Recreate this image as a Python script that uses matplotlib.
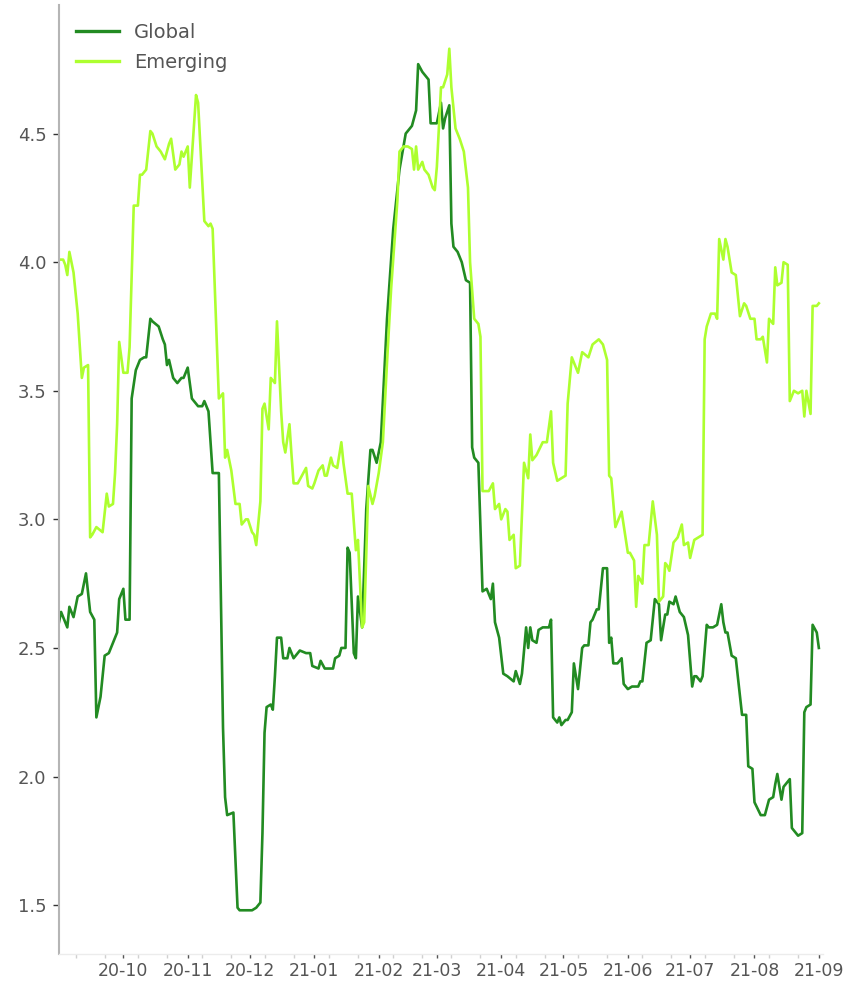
import matplotlib
matplotlib.use("Agg")
import matplotlib.pyplot as plt
import matplotlib.dates as mdates
import numpy as np
import pandas as pd

# values (date, level)
global_pts = [
    ("2020-08-31", 2.60), ("2020-09-01", 2.64), ("2020-09-04", 2.58), ("2020-09-05", 2.66),
    ("2020-09-07", 2.62), ("2020-09-09", 2.70), ("2020-09-11", 2.71), ("2020-09-13", 2.79),
    ("2020-09-15", 2.64), ("2020-09-17", 2.61), ("2020-09-18", 2.23), ("2020-09-20", 2.31),
    ("2020-09-22", 2.47), ("2020-09-24", 2.48), ("2020-09-26", 2.52), ("2020-09-28", 2.56),
    ("2020-09-29", 2.69), ("2020-10-01", 2.73), ("2020-10-02", 2.61), ("2020-10-04", 2.61),
    ("2020-10-05", 3.47), ("2020-10-07", 3.58), ("2020-10-09", 3.62), ("2020-10-11", 3.63),
    ("2020-10-12", 3.63), ("2020-10-14", 3.78), ("2020-10-15", 3.77), ("2020-10-18", 3.75),
    ("2020-10-20", 3.70), ("2020-10-21", 3.68), ("2020-10-22", 3.60), ("2020-10-23", 3.62),
    ("2020-10-25", 3.55), ("2020-10-27", 3.53), ("2020-10-29", 3.55), ("2020-10-30", 3.55),
    ("2020-11-01", 3.59), ("2020-11-03", 3.47), ("2020-11-06", 3.44), ("2020-11-08", 3.44),
    ("2020-11-09", 3.46), ("2020-11-11", 3.42), ("2020-11-13", 3.18), ("2020-11-16", 3.18),
    ("2020-11-18", 2.19), ("2020-11-19", 1.92), ("2020-11-20", 1.85), ("2020-11-23", 1.86),
    ("2020-11-25", 1.49), ("2020-11-26", 1.48), ("2020-12-02", 1.48), ("2020-12-04", 1.49),
    ("2020-12-06", 1.51), ("2020-12-07", 1.78), ("2020-12-08", 2.17), ("2020-12-09", 2.27),
    ("2020-12-11", 2.28), ("2020-12-12", 2.26), ("2020-12-13", 2.39), ("2020-12-14", 2.54),
    ("2020-12-16", 2.54), ("2020-12-17", 2.46), ("2020-12-19", 2.46), ("2020-12-20", 2.50),
    ("2020-12-22", 2.46), ("2020-12-25", 2.49), ("2020-12-28", 2.48), ("2020-12-30", 2.48),
    ("2020-12-31", 2.43), ("2021-01-03", 2.42), ("2021-01-04", 2.45), ("2021-01-06", 2.42),
    ("2021-01-10", 2.42), ("2021-01-11", 2.46), ("2021-01-13", 2.47), ("2021-01-14", 2.50),
    ("2021-01-16", 2.50), ("2021-01-17", 2.89), ("2021-01-18", 2.87), ("2021-01-20", 2.48),
    ("2021-01-21", 2.46), ("2021-01-22", 2.70), ("2021-01-24", 2.58), ("2021-01-26", 3.04),
    ("2021-01-28", 3.27), ("2021-01-29", 3.27), ("2021-01-31", 3.22), ("2021-02-02", 3.30),
    ("2021-02-05", 3.78), ("2021-02-08", 4.13), ("2021-02-11", 4.36), ("2021-02-14", 4.50),
    ("2021-02-15", 4.51), ("2021-02-17", 4.53), ("2021-02-19", 4.59), ("2021-02-20", 4.77),
    ("2021-02-22", 4.74), ("2021-02-25", 4.71), ("2021-02-26", 4.54), ("2021-03-01", 4.54),
    ("2021-03-03", 4.62), ("2021-03-04", 4.52), ("2021-03-05", 4.56), ("2021-03-07", 4.61),
    ("2021-03-08", 4.15), ("2021-03-09", 4.06), ("2021-03-11", 4.04), ("2021-03-13", 4.00),
    ("2021-03-15", 3.93), ("2021-03-17", 3.92), ("2021-03-18", 3.28), ("2021-03-19", 3.24),
    ("2021-03-21", 3.22), ("2021-03-23", 2.72), ("2021-03-25", 2.73), ("2021-03-27", 2.69),
    ("2021-03-28", 2.75), ("2021-03-29", 2.60), ("2021-03-31", 2.54), ("2021-04-02", 2.40),
    ("2021-04-04", 2.39), ("2021-04-07", 2.37), ("2021-04-08", 2.41), ("2021-04-10", 2.36),
    ("2021-04-11", 2.40), ("2021-04-13", 2.58), ("2021-04-14", 2.50), ("2021-04-15", 2.58),
    ("2021-04-16", 2.53), ("2021-04-18", 2.52), ("2021-04-19", 2.57), ("2021-04-21", 2.58),
    ("2021-04-24", 2.58), ("2021-04-25", 2.61), ("2021-04-26", 2.23), ("2021-04-28", 2.21),
    ("2021-04-29", 2.23), ("2021-04-30", 2.20), ("2021-05-02", 2.22), ("2021-05-03", 2.22),
    ("2021-05-05", 2.25), ("2021-05-06", 2.44), ("2021-05-08", 2.34), ("2021-05-09", 2.42),
    ("2021-05-10", 2.50), ("2021-05-11", 2.51), ("2021-05-13", 2.51), ("2021-05-14", 2.60),
    ("2021-05-15", 2.61), ("2021-05-17", 2.65), ("2021-05-18", 2.65), ("2021-05-20", 2.81),
    ("2021-05-22", 2.81), ("2021-05-23", 2.52), ("2021-05-24", 2.54), ("2021-05-25", 2.44),
    ("2021-05-27", 2.44), ("2021-05-29", 2.46), ("2021-05-30", 2.36), ("2021-06-01", 2.34),
    ("2021-06-03", 2.35), ("2021-06-06", 2.35), ("2021-06-07", 2.37), ("2021-06-08", 2.37),
    ("2021-06-10", 2.52), ("2021-06-12", 2.53), ("2021-06-14", 2.69), ("2021-06-16", 2.67),
    ("2021-06-17", 2.53), ("2021-06-19", 2.63), ("2021-06-20", 2.63), ("2021-06-21", 2.68),
    ("2021-06-23", 2.67), ("2021-06-24", 2.70), ("2021-06-26", 2.64), ("2021-06-28", 2.62),
    ("2021-06-30", 2.55), ("2021-07-02", 2.35), ("2021-07-03", 2.39), ("2021-07-04", 2.39),
    ("2021-07-06", 2.37), ("2021-07-07", 2.39), ("2021-07-09", 2.59), ("2021-07-10", 2.58),
    ("2021-07-12", 2.58), ("2021-07-14", 2.59), ("2021-07-16", 2.67), ("2021-07-17", 2.60),
    ("2021-07-18", 2.56), ("2021-07-19", 2.56), ("2021-07-21", 2.47), ("2021-07-23", 2.46),
    ("2021-07-26", 2.24), ("2021-07-28", 2.24), ("2021-07-29", 2.04), ("2021-07-31", 2.03),
    ("2021-08-01", 1.90), ("2021-08-04", 1.85), ("2021-08-06", 1.85), ("2021-08-08", 1.91),
    ("2021-08-10", 1.92), ("2021-08-11", 1.97), ("2021-08-12", 2.01), ("2021-08-14", 1.91),
    ("2021-08-15", 1.96), ("2021-08-18", 1.99), ("2021-08-19", 1.80), ("2021-08-21", 1.78),
    ("2021-08-22", 1.77), ("2021-08-24", 1.78), ("2021-08-25", 2.25), ("2021-08-26", 2.27),
    ("2021-08-28", 2.28), ("2021-08-29", 2.59), ("2021-08-31", 2.56), ("2021-09-01", 2.50),
]

emerging_pts = [
    ("2020-08-31", 4.01), ("2020-09-02", 4.01), ("2020-09-03", 3.99), ("2020-09-04", 3.95),
    ("2020-09-05", 4.04), ("2020-09-07", 3.96), ("2020-09-09", 3.80), ("2020-09-11", 3.55),
    ("2020-09-12", 3.59), ("2020-09-14", 3.60), ("2020-09-15", 2.93), ("2020-09-16", 2.94),
    ("2020-09-18", 2.97), ("2020-09-21", 2.95), ("2020-09-23", 3.10), ("2020-09-24", 3.05),
    ("2020-09-26", 3.06), ("2020-09-27", 3.18), ("2020-09-28", 3.37), ("2020-09-29", 3.69),
    ("2020-10-01", 3.57), ("2020-10-03", 3.57), ("2020-10-04", 3.67), ("2020-10-06", 4.22),
    ("2020-10-08", 4.22), ("2020-10-09", 4.34), ("2020-10-10", 4.34), ("2020-10-12", 4.36),
    ("2020-10-14", 4.51), ("2020-10-15", 4.50), ("2020-10-17", 4.45), ("2020-10-19", 4.43),
    ("2020-10-21", 4.40), ("2020-10-23", 4.46), ("2020-10-24", 4.48), ("2020-10-26", 4.36),
    ("2020-10-28", 4.38), ("2020-10-29", 4.43), ("2020-10-30", 4.41), ("2020-11-01", 4.45),
    ("2020-11-02", 4.29), ("2020-11-04", 4.53), ("2020-11-05", 4.65), ("2020-11-06", 4.62),
    ("2020-11-09", 4.16), ("2020-11-11", 4.14), ("2020-11-12", 4.15), ("2020-11-13", 4.13),
    ("2020-11-16", 3.47), ("2020-11-18", 3.49), ("2020-11-19", 3.24), ("2020-11-20", 3.27),
    ("2020-11-22", 3.19), ("2020-11-24", 3.06), ("2020-11-26", 3.06), ("2020-11-27", 2.98),
    ("2020-11-29", 3.00), ("2020-11-30", 3.00), ("2020-12-02", 2.95), ("2020-12-03", 2.94),
    ("2020-12-04", 2.90), ("2020-12-06", 3.07), ("2020-12-07", 3.43), ("2020-12-08", 3.45),
    ("2020-12-10", 3.35), ("2020-12-11", 3.55), ("2020-12-13", 3.53), ("2020-12-14", 3.77),
    ("2020-12-16", 3.42), ("2020-12-17", 3.30), ("2020-12-18", 3.26), ("2020-12-20", 3.37),
    ("2020-12-21", 3.25), ("2020-12-22", 3.14), ("2020-12-24", 3.14), ("2020-12-26", 3.17),
    ("2020-12-28", 3.20), ("2020-12-29", 3.13), ("2020-12-31", 3.12), ("2021-01-01", 3.14),
    ("2021-01-03", 3.19), ("2021-01-05", 3.21), ("2021-01-06", 3.17), ("2021-01-07", 3.17),
    ("2021-01-09", 3.24), ("2021-01-10", 3.21), ("2021-01-12", 3.20), ("2021-01-14", 3.30),
    ("2021-01-15", 3.22), ("2021-01-17", 3.10), ("2021-01-19", 3.10), ("2021-01-21", 2.88),
    ("2021-01-22", 2.92), ("2021-01-24", 2.58), ("2021-01-25", 2.60), ("2021-01-27", 3.13),
    ("2021-01-29", 3.06), ("2021-01-30", 3.09), ("2021-02-01", 3.18), ("2021-02-03", 3.30),
    ("2021-02-05", 3.61), ("2021-02-07", 3.90), ("2021-02-10", 4.24), ("2021-02-11", 4.43),
    ("2021-02-13", 4.45), ("2021-02-15", 4.45), ("2021-02-17", 4.44), ("2021-02-18", 4.36),
    ("2021-02-19", 4.45), ("2021-02-20", 4.36), ("2021-02-22", 4.39), ("2021-02-23", 4.36),
    ("2021-02-25", 4.34), ("2021-02-27", 4.29), ("2021-02-28", 4.28), ("2021-03-01", 4.37),
    ("2021-03-03", 4.68), ("2021-03-04", 4.68), ("2021-03-06", 4.73), ("2021-03-07", 4.83),
    ("2021-03-08", 4.68), ("2021-03-10", 4.52), ("2021-03-12", 4.48), ("2021-03-14", 4.43),
    ("2021-03-16", 4.29), ("2021-03-17", 4.00), ("2021-03-19", 3.78), ("2021-03-21", 3.76),
    ("2021-03-22", 3.71), ("2021-03-23", 3.11), ("2021-03-26", 3.11), ("2021-03-28", 3.14),
    ("2021-03-29", 3.04), ("2021-03-31", 3.06), ("2021-04-01", 3.00), ("2021-04-03", 3.04),
    ("2021-04-04", 3.03), ("2021-04-05", 2.92), ("2021-04-07", 2.94), ("2021-04-08", 2.81),
    ("2021-04-10", 2.82), ("2021-04-12", 3.22), ("2021-04-14", 3.16), ("2021-04-15", 3.33),
    ("2021-04-16", 3.23), ("2021-04-18", 3.25), ("2021-04-21", 3.30), ("2021-04-23", 3.30),
    ("2021-04-25", 3.42), ("2021-04-26", 3.22), ("2021-04-28", 3.15), ("2021-04-30", 3.16),
    ("2021-05-02", 3.17), ("2021-05-03", 3.45), ("2021-05-05", 3.63), ("2021-05-08", 3.57),
    ("2021-05-10", 3.65), ("2021-05-13", 3.63), ("2021-05-15", 3.68), ("2021-05-18", 3.70),
    ("2021-05-20", 3.68), ("2021-05-22", 3.62), ("2021-05-23", 3.17), ("2021-05-24", 3.16),
    ("2021-05-26", 2.97), ("2021-05-29", 3.03), ("2021-06-01", 2.87), ("2021-06-02", 2.87),
    ("2021-06-04", 2.84), ("2021-06-05", 2.66), ("2021-06-06", 2.78), ("2021-06-08", 2.75),
    ("2021-06-09", 2.90), ("2021-06-11", 2.90), ("2021-06-13", 3.07), ("2021-06-15", 2.94),
    ("2021-06-16", 2.68), ("2021-06-18", 2.70), ("2021-06-19", 2.83), ("2021-06-20", 2.82),
    ("2021-06-21", 2.80), ("2021-06-23", 2.91), ("2021-06-25", 2.93), ("2021-06-27", 2.98),
    ("2021-06-28", 2.90), ("2021-06-30", 2.91), ("2021-07-01", 2.85), ("2021-07-03", 2.92),
    ("2021-07-05", 2.93), ("2021-07-07", 2.94), ("2021-07-08", 3.70), ("2021-07-09", 3.75),
    ("2021-07-11", 3.80), ("2021-07-13", 3.80), ("2021-07-14", 3.78), ("2021-07-15", 4.09),
    ("2021-07-17", 4.01), ("2021-07-18", 4.09), ("2021-07-19", 4.06), ("2021-07-21", 3.96),
    ("2021-07-23", 3.95), ("2021-07-25", 3.79), ("2021-07-27", 3.84), ("2021-07-28", 3.83),
    ("2021-07-30", 3.78), ("2021-08-01", 3.78), ("2021-08-02", 3.70), ("2021-08-04", 3.70),
    ("2021-08-05", 3.71), ("2021-08-07", 3.61), ("2021-08-08", 3.78), ("2021-08-10", 3.76),
    ("2021-08-11", 3.98), ("2021-08-12", 3.91), ("2021-08-14", 3.92), ("2021-08-15", 4.00),
    ("2021-08-17", 3.99), ("2021-08-18", 3.46), ("2021-08-20", 3.50), ("2021-08-22", 3.49),
    ("2021-08-24", 3.50), ("2021-08-25", 3.40), ("2021-08-26", 3.50), ("2021-08-28", 3.41),
    ("2021-08-29", 3.83), ("2021-08-31", 3.83), ("2021-09-01", 3.84),
]

series_names = ["Global", "Emerging"]
series_colors = ["#228B22", "#ADFF2F"]
y_ticks = [1.5, 2.0, 2.5, 3.0, 3.5, 4.0, 4.5]
month_ticks = pd.date_range("2020-10-01", "2021-09-01", freq="MS")

text_grey = "#555555"

fig = plt.figure(figsize=(8.59, 9.81), dpi=100, facecolor="w")
ax = fig.add_axes([59 / 859, 1 - 954 / 981, (823 - 59) / 859, (954 - 5) / 981])

for pts, name, col in zip([global_pts, emerging_pts], series_names, series_colors):
    d = pd.to_datetime([p[0] for p in pts])
    v = np.array([p[1] for p in pts])
    ax.plot(d, v, color=col, lw=1.9, label=name, solid_joinstyle="round")

ax.set_xlim(pd.Timestamp("2020-08-31"), pd.Timestamp("2021-09-03"))
ax.set_ylim(1.31, 5.0)

ax.set_yticks(y_ticks)
ax.set_yticklabels([f"{t:.1f}" for t in y_ticks])

ax.set_xticks(month_ticks)
ax.set_xticklabels([m.strftime("%y-%m") for m in month_ticks])
ax.xaxis.set_minor_locator(mdates.DayLocator(bymonthday=[8, 22]))

ax.tick_params(axis="y", length=4, width=1, color="#333333", labelcolor=text_grey,
               labelsize=13, pad=5)
ax.tick_params(axis="x", which="major", length=3, width=1, color="#555555",
               labelcolor=text_grey, labelsize=12.5, pad=3)
ax.tick_params(axis="x", which="minor", length=3, width=1, color="#d0d0d0")

for s in ["top", "right"]:
    ax.spines[s].set_visible(False)
ax.spines["left"].set_color("#b5b5b5")
ax.spines["left"].set_linewidth(1.5)
ax.spines["bottom"].set_color("#ececec")
ax.spines["bottom"].set_linewidth(1)

leg = ax.legend(loc="upper left", bbox_to_anchor=(76 / 859, 1 - 23 / 981),
                bbox_transform=fig.transFigure, frameon=False, fontsize=14,
                handlelength=2.2, handletextpad=0.8, labelspacing=0.55,
                borderpad=0, borderaxespad=0)
for t in leg.get_texts():
    t.set_color(text_grey)
for h in leg.get_lines():
    h.set_linewidth(2.4)

fig.savefig("out.png", dpi=100, facecolor="w")
